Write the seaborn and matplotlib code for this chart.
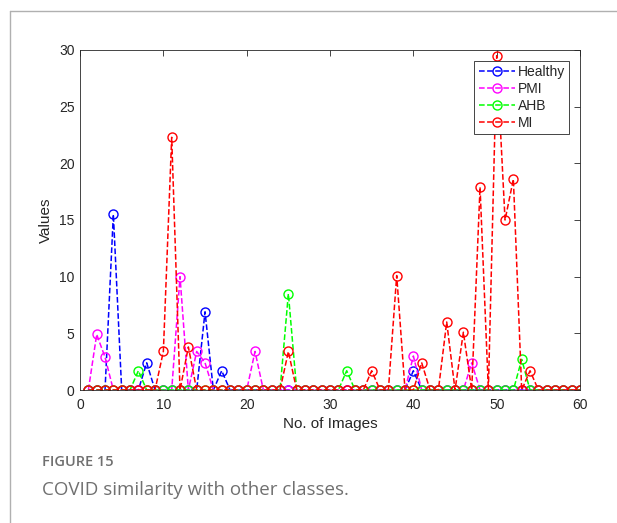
import numpy as np
import pandas as pd
import matplotlib.pyplot as plt
import matplotlib.lines as mlines
import seaborn as sns

## ============================================================= ##

images = list(range(1, 61))

healthy = [0, 0, 0, 15.5, 0, 0, 0, 2.4, 0, 0,
           0, 0, 0, 0, 6.9, 0, 1.7, 0, 0, 0,
           0, 0, 0, 0, 0, 0, 0, 0, 0, 0,
           0, 0, 0, 0, 0, 0, 0, 0, 0, 1.7,
           0, 0, 0, 0, 0, 0, 0, 0, 0, 0,
           0, 0, 0, 0, 0, 0, 0, 0, 0, 0]

pmi = [0, 4.9, 2.9, 0, 0, 0, 0, 0, 0, 0,
       0, 10.0, 0, 3.4, 2.4, 0, 0, 0, 0, 0,
       3.4, 0, 0, 0, 0, 0, 0, 0, 0, 0,
       0, 0, 0, 0, 0, 0, 0, 0, 0, 3.0,
       0, 0, 0, 0, 0, 0, 2.4, 0, 0, 0,
       0, 0, 0, 0, 0, 0, 0, 0, 0, 0]

ahb = [0, 0, 0, 0, 0, 0, 1.7, 0, 0, 0,
       0, 0, 0, 0, 0, 0, 0, 0, 0, 0,
       0, 0, 0, 0, 8.5, 0, 0, 0, 0, 0,
       0, 1.7, 0, 0, 0, 0, 0, 0, 0, 0,
       0, 0, 0, 0, 0, 0, 0, 0, 0, 0,
       0, 0, 2.7, 0, 0, 0, 0, 0, 0, 0]

mi = [0, 0, 0, 0, 0, 0, 0, 0, 0, 3.4,
      22.3, 0, 3.8, 0, 0, 0, 0, 0, 0, 0,
      0, 0, 0, 0, 3.4, 0, 0, 0, 0, 0,
      0, 0, 0, 0, 1.7, 0, 0, 10.1, 0, 0,
      2.4, 0, 0, 6.0, 0, 5.1, 0, 17.9, 0, 29.5,
      15.0, 18.6, 0, 1.7, 0, 0, 0, 0, 0, 0]

series_names = ['Healthy', 'PMI', 'AHB', 'MI']
series_colors = ['#0000ff', '#ff00ff', '#00ff00', '#ff0000']

x_ticks = [0, 10, 20, 30, 40, 50, 60]
y_ticks = [0, 5, 10, 15, 20, 25, 30]

## ============================================================= ##

sns.set_style('white')
plt.rcParams['font.family'] = ['Liberation Sans', 'DejaVu Sans']

fig = plt.figure(figsize=(6.17, 5.23), dpi=100)
ax = fig.add_axes([0.1297, 0.2543, 0.8104, 0.6501])

for name, vals, col in zip(series_names, [healthy, pmi, ahb, mi], series_colors):
    df = pd.DataFrame({'x': images, 'y': vals})
    sns.lineplot(data=df, x='x', y='y', ax=ax, color=col, linestyle='--',
                 lw=1.1, marker='o', ms=6.5, mfc='none', mec=col, mew=1.0,
                 label=name)

ax.set_xlim(0, 60)
ax.set_ylim(0, 30)
ax.set_xticks(x_ticks)
ax.set_yticks(y_ticks)
ax.tick_params(direction='in', length=4, width=0.6, top=True, right=True,
               labelsize=10, colors='#262626')
ax.tick_params(axis='x', pad=6)
ax.tick_params(axis='y', pad=4)
for s in ax.spines.values():
    s.set_color('#262626')
    s.set_linewidth(0.6)
    s.set_visible(True)
ax.set_xlabel('No. of Images', fontsize=11, color='#262626', labelpad=3)
ax.set_ylabel('Values', fontsize=11, color='#262626', labelpad=4)

leg = ax.legend(loc='upper right', fontsize=10, frameon=True, fancybox=False,
                edgecolor='#262626', framealpha=1, borderaxespad=0.8,
                handlelength=2.6, labelspacing=0.2, borderpad=0.3,
                handletextpad=0.2)
leg.get_frame().set_linewidth(0.6)

# card border and caption
fig.add_artist(mlines.Line2D([10/617, 10/617], [0, 1 - 11/523], color='#b0b0b0', lw=1))
fig.add_artist(mlines.Line2D([10/617, 1], [1 - 11/523, 1 - 11/523], color='#b0b0b0', lw=1))
fig.text(42/617, 1 - 462/523, 'FIGURE 15', fontsize=10.5, color='#707070',
         family='Open Sans', fontweight='semibold', va='center', ha='left')
fig.text(42/617, 1 - 490/523, 'COVID similarity with other classes.', fontsize=13.5,
         color='#707070', family='Open Sans', va='center', ha='left')

fig.savefig('out.png', dpi=100)
